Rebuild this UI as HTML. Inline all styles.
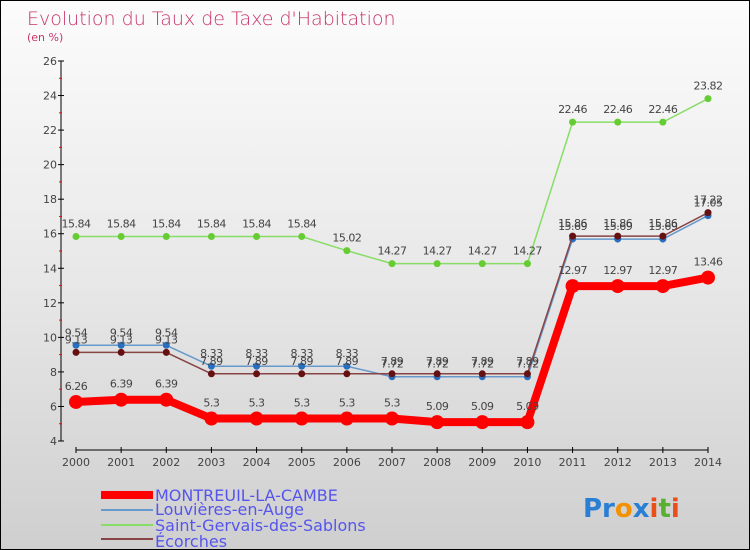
<!DOCTYPE html>
<html><head><meta charset="utf-8"><style>
body{margin:0}
#c{width:748px;height:548px;border:1px solid #000;background:linear-gradient(#fcfcfc,#e8e8e8 50%,#cfcfcf);position:relative;font-family:"DejaVu Sans","Liberation Sans",sans-serif;overflow:hidden}
svg{position:absolute;left:0;top:0}
</style></head><body>
<div id="c">
<svg id="s" width="748" height="548">
<text x="26" y="24" font-size="19" fill="#c8336a" font-weight="300">Evolution du Taux de Taxe d'Habitation</text>
<text x="26" y="40" font-size="11" fill="#c8336a">(en %)</text>
<g id="ax"></g><g id="series"></g>
<g font-size="16" fill="#5555ee">
<rect x="100" y="490" width="52" height="8" fill="#f00"/>
<text x="154" y="500">MONTREUIL-LA-CAMBE</text>
<rect x="100" y="508" width="52" height="2" fill="#6699cc"/>
<text x="154" y="514">Louvières-en-Auge</text>
<rect x="100" y="523" width="52" height="2" fill="#88dd66"/>
<text x="154" y="530">Saint-Gervais-des-Sablons</text>
<rect x="100" y="537" width="52" height="2" fill="#884444"/>
<text x="154" y="546">Écorches</text>
</g>
<text x="582" y="516" font-size="26" font-weight="bold"><tspan fill="#2a7fd4">Pr</tspan><tspan fill="#f39200">o</tspan><tspan fill="#2a7fd4">x</tspan><tspan fill="#e94e1b">i</tspan><tspan fill="#59b030">t</tspan><tspan fill="#e94e1b">i</tspan></text>
</svg></div>
<script>
const years=[2000,2001,2002,2003,2004,2005,2006,2007,2008,2009,2010,2011,2012,2013,2014];
const yTicks=[4,6,8,10,12,14,16,18,20,22,24,26];
const montreuil=[6.26,6.39,6.39,5.3,5.3,5.3,5.3,5.3,5.09,5.09,5.09,12.97,12.97,12.97,13.46];
const louvieres=[9.54,9.54,9.54,8.33,8.33,8.33,8.33,7.72,7.72,7.72,7.72,15.69,15.69,15.69,17.05];
const saintGervais=[15.84,15.84,15.84,15.84,15.84,15.84,15.02,14.27,14.27,14.27,14.27,22.46,22.46,22.46,23.82];
const ecorches=[9.13,9.13,9.13,7.89,7.89,7.89,7.89,7.89,7.89,7.89,7.89,15.86,15.86,15.86,17.22];
const NS="http://www.w3.org/2000/svg";
const X=i=>75+i*(707-75)/14, Y=v=>440-(v-4)*(380/22);
function el(t,a,p){const e=document.createElementNS(NS,t);for(const k in a)e.setAttribute(k,a[k]);p.appendChild(e);return e;}
const ax=document.getElementById('ax');
let yl=el('line',{x1:60,y1:60,x2:60,y2:440,stroke:'#000'},ax);


let xl=el('line',{x1:75,y1:449,x2:707,y2:449,stroke:'#000'},ax);


yTicks.forEach((v,i)=>{
 el('line',{x1:57,x2:63,y1:Y(v),y2:Y(v),stroke:'#000'},ax);
 if(i<yTicks.length-1)el('line',{x1:58,x2:61,y1:Y(v+1),y2:Y(v+1),stroke:'#f00'},ax);
 const t=el('text',{x:56,y:Y(v)+4,'text-anchor':'end','font-size':11,fill:'#444'},ax);t.textContent=v;
 
 
});
years.forEach((y,i)=>{
 el('line',{x1:X(i),x2:X(i),y1:446,y2:452,stroke:'#000'},ax);
 const t=el('text',{x:X(i),y:465,'text-anchor':'middle','font-size':11,fill:'#444'},ax);t.textContent=y;
 
 
});
const sg=document.getElementById('series');
function draw(d,name,col,w,r,dot,off){
 const g=el('g',{},sg);
 
 
 el('polyline',{points:d.map((v,i)=>X(i)+','+Y(v)).join(' '),fill:'none',stroke:col,'stroke-width':w,'stroke-linejoin':'round'},g);
 d.forEach((v,i)=>{
  const c=el('circle',{cx:X(i),cy:Y(v),r:r,fill:dot},g);
  
  
  const t=el('text',{x:X(i),y:Y(v)-off,'text-anchor':'middle','font-size':11,fill:'#444','letter-spacing':'-0.5'},g);t.textContent=v;
  
  
 });
}
draw(saintGervais,'saint-gervais','#88dd66',1.5,3.5,'#66cc33',9);
draw(louvieres,'louvieres','#6699cc',1.5,3.5,'#2a6fbf',9);
draw(ecorches,'ecorches','#884444',1.5,3.5,'#661111',9);
draw(montreuil,'montreuil','#f00',8,7,'#f00',12);
</script>
</body></html>
